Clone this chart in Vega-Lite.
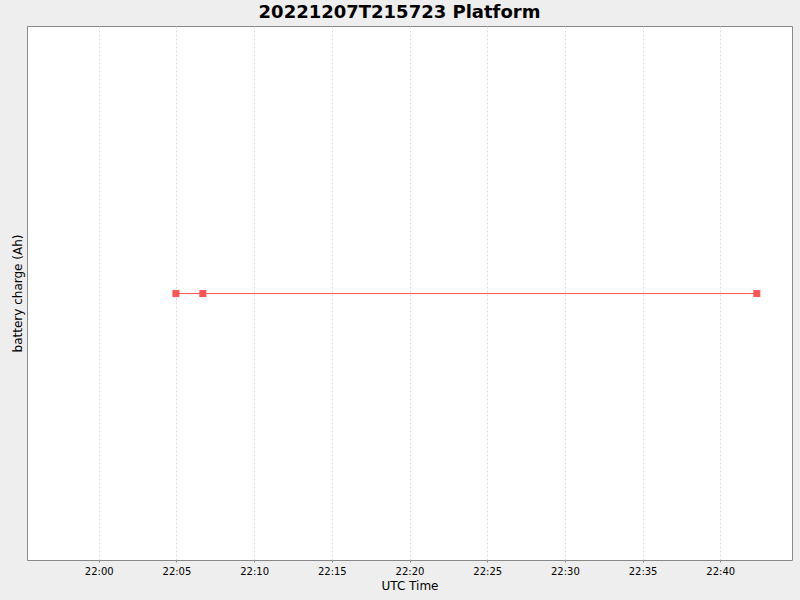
{
  "$schema": "https://vega.github.io/schema/vega-lite/v6.json",
  "width": 765,
  "height": 534,
  "autosize": {"type": "none"},
  "padding": {"left": 27, "top": 26, "right": 8, "bottom": 40},
  "background": "#EEEEEE",
  "title": {
    "text": "20221207T215723 Platform",
    "fontSize": 18,
    "fontWeight": "bold",
    "font": "DejaVu Sans",
    "color": "#000000",
    "anchor": "middle",
    "dx": -10,
    "offset": 4
  },
  "data": {
    "values": [
      {"time": "2022-12-07T22:04:58Z", "charge": 0},
      {"time": "2022-12-07T22:06:42Z", "charge": 0},
      {"time": "2022-12-07T22:42:21Z", "charge": 0}
    ]
  },
  "encoding": {
    "x": {
      "field": "time",
      "type": "temporal",
      "title": "UTC Time",
      "scale": {
        "type": "utc",
        "domain": ["2022-12-07T21:55:23Z", "2022-12-07T22:44:37Z"]
      },
      "axis": {
        "format": "%H:%M",
        "labelFlush": false,
        "labelOverlap": false
      }
    },
    "y": {
      "field": "charge",
      "type": "quantitative",
      "title": "battery charge (Ah)",
      "scale": {"domain": [-1, 1.004]},
      "axis": {"labels": false, "ticks": false, "grid": false}
    }
  },
  "layer": [
    {"mark": {"type": "line", "color": "#FF5555", "strokeWidth": 1}},
    {"mark": {"type": "point", "shape": "square", "filled": true, "size": 49, "color": "#FF5555", "opacity": 1}}
  ],
  "config": {
    "font": "DejaVu Sans",
    "view": {"fill": "#FFFFFF", "stroke": "#888888", "strokeWidth": 1},
    "axis": {
      "domain": false,
      "grid": true,
      "gridColor": "#DDDDDD",
      "gridDash": [2, 2],
      "gridWidth": 1,
      "tickColor": "#888888",
      "tickSize": 2,
      "labelFont": "DejaVu Sans",
      "labelFontSize": 10,
      "labelColor": "#000000",
      "labelPadding": 4,
      "titleFont": "DejaVu Sans",
      "titleFontSize": 12,
      "titleFontWeight": "normal",
      "titleColor": "#000000"
    },
    "axisX": {"titlePadding": 4},
    "axisY": {"titlePadding": 3}
  }
}
